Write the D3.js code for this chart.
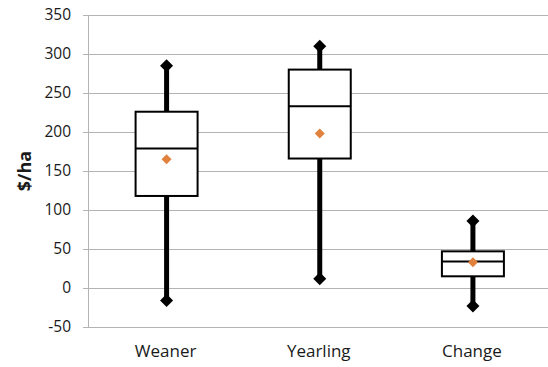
<!DOCTYPE html>
<html>
<head>
<meta charset="utf-8">
<script src="https://cdn.jsdelivr.net/npm/d3@7"></script>
<style>
  html, body { margin: 0; padding: 0; background: #fff; }
  svg { display: block; }
  text { font-family: "Open Sans", "Noto Sans", sans-serif; fill: #1a1a1a; }
</style>
</head>
<body>
<svg id="chart" width="548" height="367"></svg>
<script>
// Gross margin distributions ($/ha) per enterprise
const categories = ["Weaner", "Yearling", "Change"];
const minValues    = [-16, 12, -23];
const q1Values     = [118, 166, 15];
const medianValues = [179, 233, 34];
const q3Values     = [226, 280, 47];
const maxValues    = [285, 310, 86];
const meanValues   = [165, 198, 33];
const yTicks = [-50, 0, 50, 100, 150, 200, 250, 300, 350];

const svg = d3.select("#chart");
const margin = { left: 89, right: 0, top: 15, bottom: 40 };
const W = 548, H = 367;

const x = d3.scaleBand().domain(categories).range([margin.left, W + 0.5]).paddingInner(0).paddingOuter(0);
const y = d3.scaleLinear().domain([-50, 350]).range([H - margin.bottom, margin.top]);

// gridlines
svg.append("g")
  .selectAll("line")
  .data(yTicks)
  .join("line")
  .attr("x1", margin.left - 6)
  .attr("x2", W)
  .attr("y1", d => Math.round(y(d)) + 0.5)
  .attr("y2", d => Math.round(y(d)) + 0.5)
  .attr("stroke", "#b3b3b3")
  .attr("stroke-width", 1);

// vertical axis line
svg.append("line")
  .attr("x1", margin.left - 0.5).attr("x2", margin.left - 0.5)
  .attr("y1", y(350)).attr("y2", y(-50) + 0.5)
  .attr("stroke", "#b3b3b3");

// y tick labels (plain hyphen for negatives)
const yAxis = d3.axisLeft(y).tickValues(yTicks).tickFormat(d => String(d)).tickSize(0).tickPadding(18);
const ya = svg.append("g").attr("transform", `translate(${margin.left},0)`).call(yAxis);
ya.select(".domain").remove();
ya.selectAll("text").attr("font-size", 15.5).attr("font-family", "Open Sans, sans-serif").attr("fill", "#1a1a1a");

// x tick labels
const xAxis = d3.axisBottom(x).tickSize(0).tickPadding(18);
const xa = svg.append("g").attr("transform", `translate(0,${y(-50)})`).call(xAxis);
xa.select(".domain").remove();
xa.selectAll("text").attr("font-size", 17).attr("font-family", "Open Sans, sans-serif").attr("fill", "#1a1a1a");

// y axis title
svg.append("text")
  .attr("transform", `translate(31,${(y(350) + y(-50)) / 2}) rotate(-90)`)
  .attr("text-anchor", "middle")
  .attr("font-size", 18)
  .attr("font-weight", "bold")
  .text("$/ha");

const data = categories.map((c, i) => ({
  c, min: minValues[i], q1: q1Values[i], med: medianValues[i],
  q3: q3Values[i], max: maxValues[i], mean: meanValues[i]
}));

const boxW = 62;
const g = svg.append("g");
const cx = d => x(d.c) + x.bandwidth() / 2 + 1;

// whiskers
g.selectAll(".wu").data(data).join("line")
  .attr("x1", cx).attr("x2", cx)
  .attr("y1", d => y(d.q3)).attr("y2", d => y(d.max))
  .attr("stroke", "#000").attr("stroke-width", 5);
g.selectAll(".wl").data(data).join("line")
  .attr("x1", cx).attr("x2", cx)
  .attr("y1", d => y(d.q1)).attr("y2", d => y(d.min))
  .attr("stroke", "#000").attr("stroke-width", 5);

// boxes
g.selectAll("rect").data(data).join("rect")
  .attr("x", d => cx(d) - boxW / 2)
  .attr("width", boxW)
  .attr("y", d => y(d.q3))
  .attr("height", d => y(d.q1) - y(d.q3))
  .attr("fill", "#fff").attr("stroke", "#000").attr("stroke-width", 2);

// medians
g.selectAll(".med").data(data).join("line")
  .attr("x1", d => cx(d) - boxW / 2).attr("x2", d => cx(d) + boxW / 2)
  .attr("y1", d => y(d.med)).attr("y2", d => y(d.med))
  .attr("stroke", "#000").attr("stroke-width", 2);

// end-point diamonds
const diamond = (s) => `M0,${-s}L${s},0L0,${s}L${-s},0Z`;
const ends = data.flatMap(d => [{ c: d.c, v: d.max }, { c: d.c, v: d.min }]);
g.selectAll(".end").data(ends).join("path")
  .attr("d", diamond(6.5))
  .attr("transform", d => `translate(${cx(d)},${y(d.v)})`)
  .attr("fill", "#000");

// mean markers
g.selectAll(".mean").data(data).join("path")
  .attr("d", diamond(5))
  .attr("transform", d => `translate(${cx(d)},${y(d.mean)})`)
  .attr("fill", "#e0823d");
</script>
</body>
</html>
